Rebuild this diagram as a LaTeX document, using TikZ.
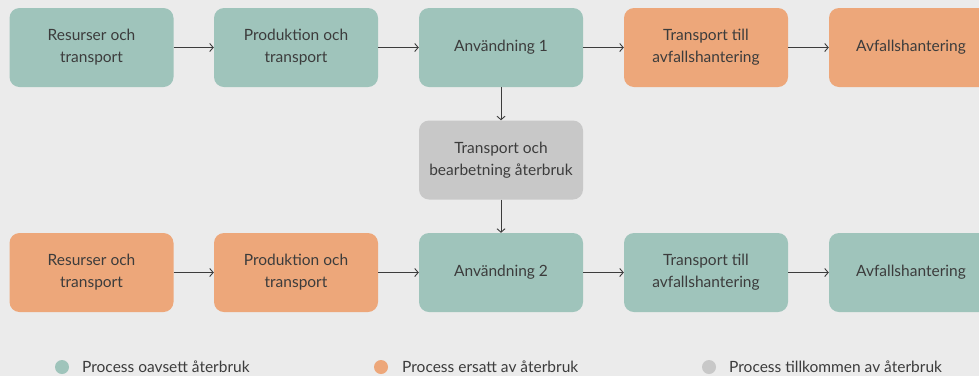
\documentclass[tikz,border=0pt]{standalone}
\usepackage{fontspec}
\setmainfont{Lato}
\usepackage{tikz}
\usepackage{xcolor}
\usetikzlibrary{arrows.meta}
\definecolor{bgcol}{HTML}{EBEBEB}
\definecolor{tealcol}{HTML}{9FC4BB}
\definecolor{orangecol}{HTML}{EDA77A}
\definecolor{graycol}{HTML}{C8C8C8}
\definecolor{inkcol}{HTML}{3C3C3C}
\newcommand{\boxw}{164}
\newcommand{\boxh}{79}
\newcommand{\rowa}{47.5}
\newcommand{\rowb}{272.5}
\tikzset{
  procbox/.style={rounded corners=10pt, minimum width=\boxw pt, minimum height=\boxh pt,
    align=center, text=inkcol, font=\fontsize{15.5}{22}\selectfont, inner sep=0pt},
  flow/.style={->, line width=0.9pt, draw=inkcol},
  legdot/.style={circle, minimum size=14pt, inner sep=0pt},
  legtext/.style={anchor=west, text=inkcol, font=\fontsize{15.5}{18}\selectfont, inner sep=0pt}
}

\begin{document}
\begin{tikzpicture}[x=1pt, y=-1pt, >={Straight Barb[length=3.5pt,width=8pt]}]
    \useasboundingbox (0, 0) rectangle (979, 376);
    \clip (0, 0) rectangle (979, 376);
    \fill[bgcol] (0, 0) rectangle (979, 376);

    % top row
    \node [procbox, fill=tealcol] (resA) at (91.5, \rowa) {Resurser och\\transport};
    \node [procbox, fill=tealcol] (prodA) at (296, \rowa) {Produktion och\\transport};
    \node [procbox, fill=tealcol] (useA) at (501, \rowa) {Användning 1};
    \node [procbox, fill=orangecol] (transA) at (706, \rowa) {Transport till\\avfallshantering};
    \node [procbox, fill=orangecol] (wasteA) at (911, \rowa) {Avfallshantering};

    % reuse step
    \node [procbox, fill=graycol] (reuse) at (501, 160) {Transport och\\bearbetning återbruk};

    % bottom row
    \node [procbox, fill=orangecol] (resB) at (91.5, \rowb) {Resurser och\\transport};
    \node [procbox, fill=orangecol] (prodB) at (296, \rowb) {Produktion och\\transport};
    \node [procbox, fill=tealcol] (useB) at (501, \rowb) {Användning 2};
    \node [procbox, fill=tealcol] (transB) at (706, \rowb) {Transport till\\avfallshantering};
    \node [procbox, fill=tealcol] (wasteB) at (911, \rowb) {Avfallshantering};

    % arrows
    \draw [flow] (resA) -- (prodA);
    \draw [flow] (prodA) -- (useA);
    \draw [flow] (useA) -- (transA);
    \draw [flow] (transA) -- (wasteA);
    \draw [flow] (useA) -- (reuse);
    \draw [flow] (reuse) -- (useB);
    \draw [flow] (resB) -- (prodB);
    \draw [flow] (prodB) -- (useB);
    \draw [flow] (useB) -- (transB);
    \draw [flow] (transB) -- (wasteB);

    % legend
    \node [legdot, fill=tealcol] (dotA) at (62, 367) {};
    \node [legtext] (legA) at (82, 367) {Process oavsett återbruk};
    \node [legdot, fill=orangecol] (dotB) at (381, 367) {};
    \node [legtext] (legB) at (402, 367) {Process ersatt av återbruk};
    \node [legdot, fill=graycol] (dotC) at (709, 367) {};
    \node [legtext] (legC) at (729, 367) {Process tillkommen av återbruk};
\end{tikzpicture}
\end{document}
